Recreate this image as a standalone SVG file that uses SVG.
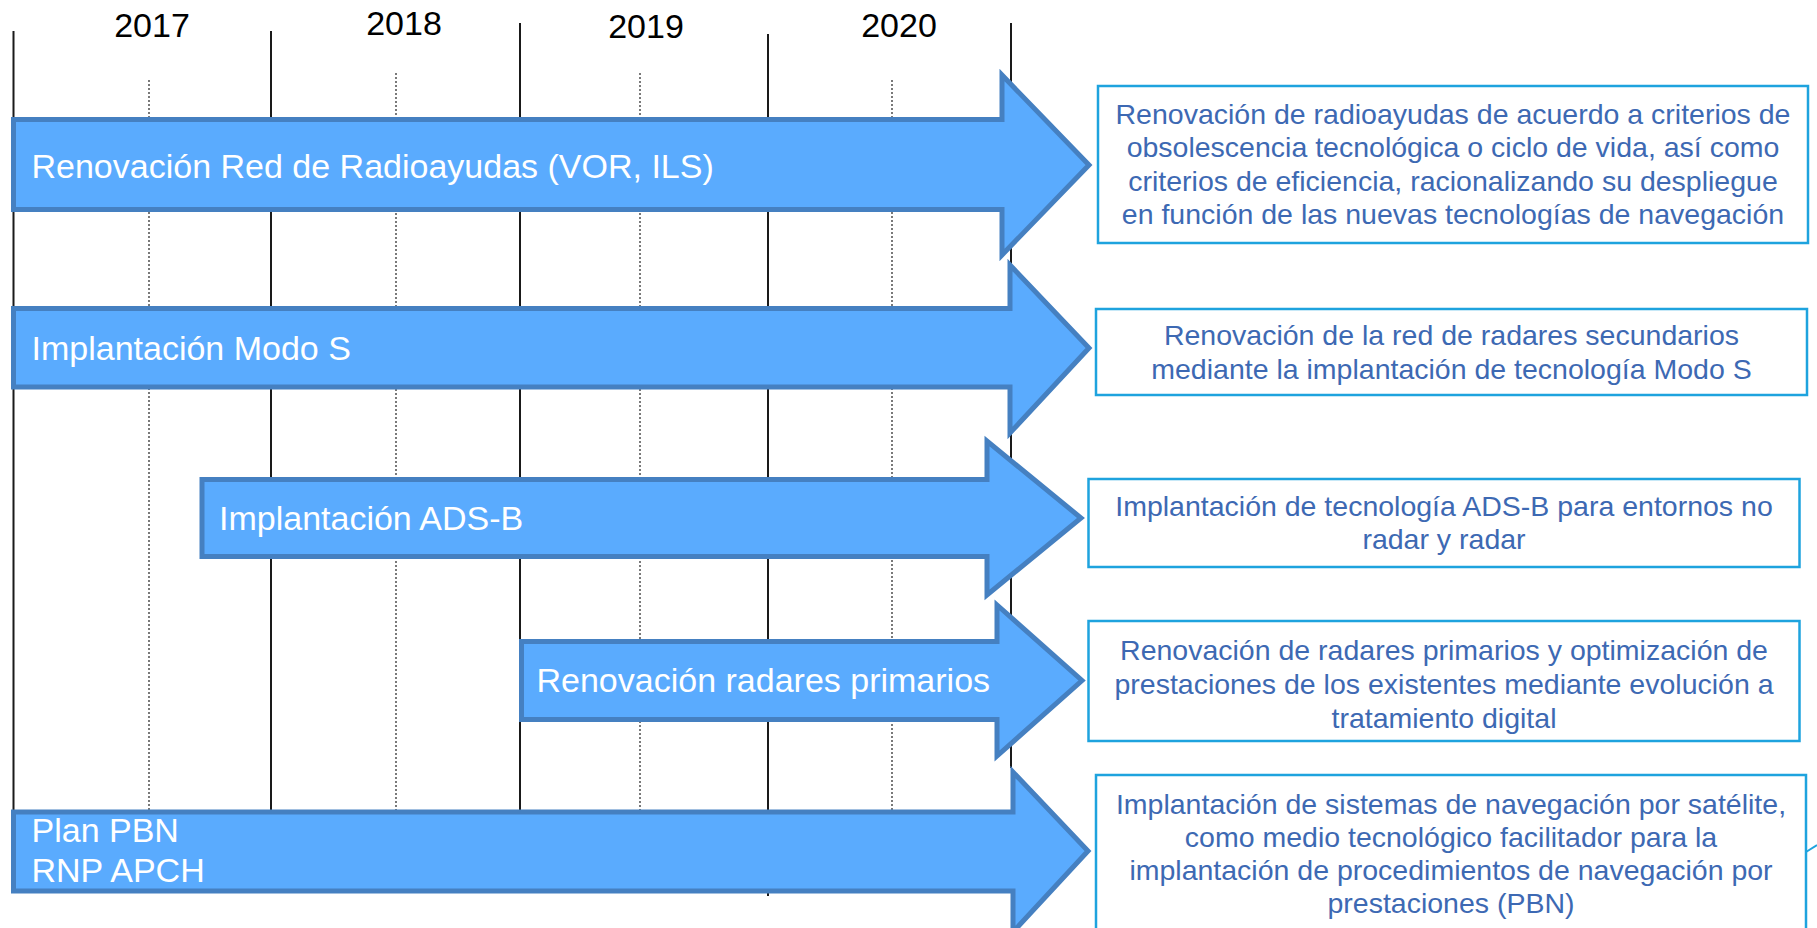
<svg xmlns="http://www.w3.org/2000/svg" width="1817" height="928" viewBox="0 0 1817 928">
  <defs>
    <style>
      .yr { font-family: "Liberation Sans", Arial, sans-serif; font-size: 34px; fill: #000; text-anchor: middle; }
      .grid { stroke: #1a1a1a; stroke-width: 2; fill: none; }
      .dot { stroke: #333; stroke-width: 1.3; stroke-dasharray: 2 2; fill: none; }
      .arrow { fill: #5aabfe; stroke: #4580c1; stroke-width: 5; stroke-linejoin: miter; }
      .atext { font-family: "Liberation Sans", Arial, sans-serif; font-size: 34px; fill: #ffffff; }
      .box { fill: #ffffff; stroke: #1ea3de; stroke-width: 2.5; }
      .btext { font-family: "Liberation Sans", Arial, sans-serif; font-size: 28.5px; fill: #3d69b3; text-anchor: middle; }
    </style>
  </defs>
  <rect width="1817" height="928" fill="#ffffff"/>

  <g id="timeline">
    <text class="yr" x="152" y="37">2017</text>
    <text class="yr" x="404" y="35">2018</text>
    <text class="yr" x="646" y="37.5">2019</text>
    <text class="yr" x="899" y="37">2020</text>
    <line class="grid" x1="13.5" y1="31" x2="13.5" y2="893"/>
    <line class="grid" x1="271" y1="31" x2="271" y2="893"/>
    <line class="grid" x1="520" y1="23" x2="520" y2="893"/>
    <line class="grid" x1="768" y1="34" x2="768" y2="896"/>
    <line class="grid" x1="1011" y1="23" x2="1011" y2="768"/>
    <line class="dot" x1="149" y1="80" x2="149" y2="893"/>
    <line class="dot" x1="396" y1="73" x2="396" y2="893"/>
    <line class="dot" x1="640" y1="73" x2="640" y2="893"/>
    <line class="dot" x1="892" y1="80" x2="892" y2="893"/>
  </g>

  <g id="connectors">
    <path d="M1806,852 L1817,845" fill="none" stroke="#1ea3de" stroke-width="2"/>
  </g>

  <g id="arrow1">
    <path class="arrow" d="M13.5,119.5 H1002 V75 L1089,165 L1002,255 V209.5 H13.5 Z"/>
    <text class="atext" x="31.5" y="177.5">Renovación Red de Radioayudas (VOR, ILS)</text>
  </g>
  <g id="arrow2">
    <path class="arrow" d="M13.5,308.5 H1010 V265 L1089,348 L1010,433 V387 H13.5 Z"/>
    <text class="atext" x="31.5" y="360">Implantación Modo S</text>
  </g>
  <g id="arrow3">
    <path class="arrow" d="M202,479.5 H987 V441 L1081,518 L987,595 V556.5 H202 Z"/>
    <text class="atext" x="219" y="530">Implantación ADS-B</text>
  </g>
  <g id="arrow4">
    <path class="arrow" d="M521.5,641.5 H997 V605 L1082,680.5 L997,756 V719.5 H521.5 Z"/>
    <text class="atext" x="536.5" y="692">Renovación radares primarios</text>
  </g>
  <g id="arrow5">
    <path class="arrow" d="M13.5,812 H1013 V772 L1088,851 L1013,932 V891 H13.5 Z"/>
    <text class="atext" x="31.5" y="842">Plan PBN</text>
    <text class="atext" x="31.5" y="882">RNP APCH</text>
  </g>

  <g id="box1">
    <rect class="box" x="1098" y="86" width="710" height="157"/>
    <text class="btext" x="1453" y="123.5">Renovación de radioayudas de acuerdo a criterios de</text>
    <text class="btext" x="1453" y="157">obsolescencia tecnológica o ciclo de vida, así como</text>
    <text class="btext" x="1453" y="190.5">criterios de eficiencia, racionalizando su despliegue</text>
    <text class="btext" x="1453" y="223.5">en función de las nuevas tecnologías de navegación</text>
  </g>
  <g id="box2">
    <rect class="box" x="1096" y="309" width="711" height="86"/>
    <text class="btext" x="1451.5" y="345">Renovación de la red de radares secundarios</text>
    <text class="btext" x="1451.5" y="378.5">mediante la implantación de tecnología Modo S</text>
  </g>
  <g id="box3">
    <rect class="box" x="1088.5" y="479" width="711" height="88"/>
    <text class="btext" x="1444" y="516">Implantación de tecnología ADS-B para entornos no</text>
    <text class="btext" x="1444" y="549">radar y radar</text>
  </g>
  <g id="box4">
    <rect class="box" x="1088.5" y="621" width="711" height="120"/>
    <text class="btext" x="1444" y="659.5">Renovación de radares primarios y optimización de</text>
    <text class="btext" x="1444" y="693.5">prestaciones de los existentes mediante evolución a</text>
    <text class="btext" x="1444" y="727.5">tratamiento digital</text>
  </g>
  <g id="box5">
    <rect class="box" x="1096" y="775" width="710" height="170"/>
    <text class="btext" x="1451" y="813.5">Implantación de sistemas de navegación por satélite,</text>
    <text class="btext" x="1451" y="847">como medio tecnológico facilitador para la</text>
    <text class="btext" x="1451" y="880">implantación de procedimientos de navegación por</text>
    <text class="btext" x="1451" y="913">prestaciones (PBN)</text>
  </g>
</svg>
